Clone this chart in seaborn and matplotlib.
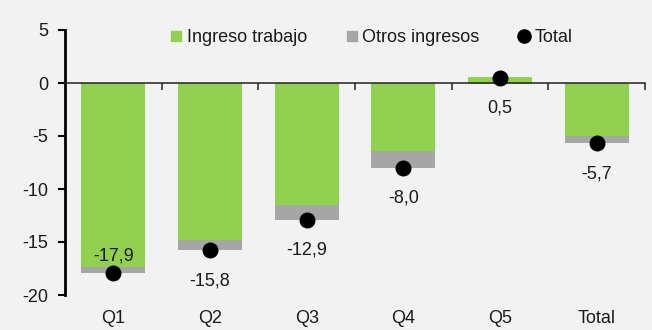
import matplotlib
matplotlib.use("Agg")
import matplotlib.pyplot as plt
from matplotlib.lines import Line2D
import pandas as pd
import seaborn as sns

# Income change by quintile (%)
categories = ["Q1", "Q2", "Q3", "Q4", "Q5", "Total"]
labor_income = [-17.4, -14.8, -11.5, -6.4, 0.6, -5.0]
other_income = [-0.5, -1.0, -1.4, -1.6, -0.1, -0.7]
total = [-17.9, -15.8, -12.9, -8.0, 0.5, -5.7]
yticks = [5, 0, -5, -10, -15, -20]
legend_labels = ["Ingreso trabajo", "Otros ingresos", "Total"]

GREEN = "#92d050"
GREY = "#a6a6a6"
BG = "#f2f2f2"
INK = "#1a1a1a"
FS = 13

sns.set_theme(style="white")
plt.rcParams["font.family"] = ["Liberation Sans Narrow", "Liberation Sans", "DejaVu Sans"]
plt.rcParams["font.size"] = FS
plt.rcParams["axes.unicode_minus"] = False
plt.rcParams["text.color"] = INK

df = pd.DataFrame({"cat": categories, "labor": labor_income,
                   "other": other_income, "total": total})
# other income is stacked on the labour bar when both point the same way
other_base = [l if (l < 0) == (o < 0) else 0.0 for l, o in zip(labor_income, other_income)]

fig = plt.figure(figsize=(6.52, 3.30), dpi=100, facecolor=BG)
ax = fig.add_axes([65 / 652, 1 - 295 / 330, 580 / 652, 265 / 330])
ax.set_facecolor(BG)

sns.barplot(data=df, x="cat", y="labor", order=categories, color=GREEN,
            saturation=1, width=0.66, linewidth=0, errorbar=None, ax=ax)
sns.barplot(data=df, x="cat", y="other", order=categories, color=GREY,
            saturation=1, width=0.66, linewidth=0, errorbar=None,
            bottom=other_base, ax=ax)
sns.stripplot(data=df, x="cat", y="total", order=categories, color="black",
              size=11.5, jitter=False, linewidth=0, zorder=4, ax=ax)

ymin, ymax = -20, 5
ax.set_xlim(-0.5, len(categories) - 0.5)
ax.set_ylim(ymin, ymax)
ax.set_xlabel("")
ax.set_ylabel("")

# value labels: below the marker, above it when there is no room below
for i, v in enumerate(total):
    dy = 12 if v - 3 < ymin else -22
    ax.annotate(f"{v:.1f}".replace(".", ","), (i, v), xytext=(0, dy),
                textcoords="offset points", ha="center", va="center",
                fontsize=FS, color=INK)

# y axis
ax.set_yticks(yticks)
ax.set_yticklabels([str(t) for t in yticks])
ax.spines["left"].set_linewidth(2)
ax.spines["left"].set_color("black")
ax.tick_params(axis="y", direction="out", length=5, width=1.5, color="black",
               labelsize=FS, labelcolor=INK, left=True, pad=7)

# zero line with separators between categories
ax.spines["bottom"].set_position(("data", 0))
ax.spines["bottom"].set_linewidth(1.1)
ax.spines["bottom"].set_color("#222222")
ax.spines["top"].set_visible(False)
ax.spines["right"].set_visible(False)
ax.set_xticks([i + 0.5 for i in range(len(categories))])
ax.set_xticklabels([])
ax.tick_params(axis="x", direction="out", length=5, width=1.1, color="#222222", bottom=True)

# category names along the bottom
sec = ax.secondary_xaxis("bottom")
sec.set_xticks(range(len(categories)))
sec.set_xticklabels(categories)
sec.spines["bottom"].set_visible(False)
sec.tick_params(axis="x", length=0, pad=11, labelsize=FS, labelcolor=INK)

handles = [
    Line2D([], [], marker="s", linestyle="none", markersize=7.5, color=GREEN),
    Line2D([], [], marker="s", linestyle="none", markersize=7.5, color=GREY),
    Line2D([], [], marker="o", linestyle="none", markersize=9.5, color="black"),
]
fig.legend(handles, legend_labels, loc="center left", bbox_to_anchor=(170 / 652, 0.885),
           ncol=3, frameon=False, fontsize=FS, handlelength=0.7,
           handletextpad=0.25, columnspacing=2.1, borderpad=0, borderaxespad=0)

fig.savefig("out.png", dpi=100, facecolor=BG)
